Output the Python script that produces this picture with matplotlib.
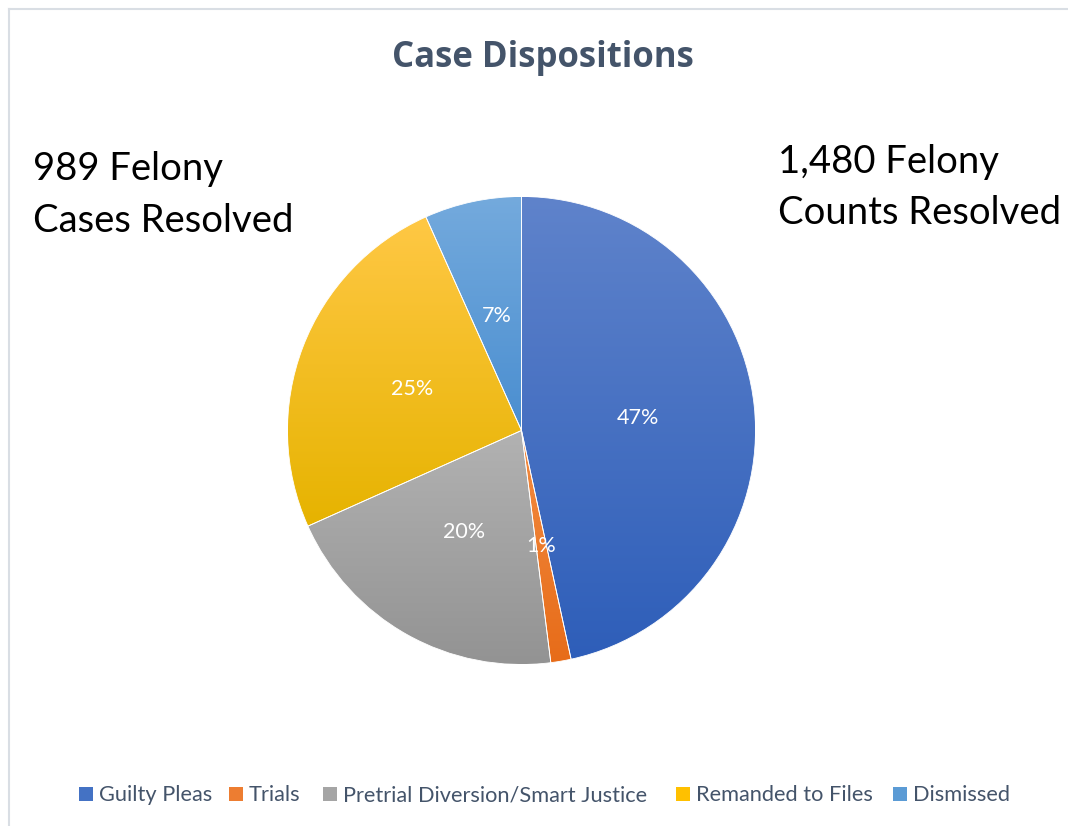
import matplotlib
matplotlib.use("Agg")
import matplotlib.pyplot as plt
from matplotlib.colors import LinearSegmentedColormap
from matplotlib.lines import Line2D
from matplotlib.patches import Rectangle
import numpy as np

# data
categories = ["Guilty Pleas", "Trials", "Pretrial Diversion/Smart Justice",
              "Remanded to Files", "Dismissed"]
shares = [46.6, 1.4, 20.3, 25.0, 6.7]
# gradient top / bottom colours per slice
top_colors = ["#5F83CB", "#F28C42", "#B2B2B2", "#FFC845", "#74AADD"]
bottom_colors = ["#2E5EB9", "#E76C19", "#939393", "#E6B300", "#4A8ED0"]
legend_colors = ["#4472C4", "#ED7D31", "#A5A5A5", "#FFC000", "#5B9BD5"]
title = "Case Dispositions"
left_note = ["989 Felony", "Cases Resolved"]
right_note = ["1,480 Felony", "Counts Resolved"]

W, H = 1068, 826
plt.rcParams['font.family'] = ['Lato', 'DejaVu Sans']

fig = plt.figure(figsize=(W / 100, H / 100), dpi=100)
fig.patch.set_facecolor("white")

def fx(px):
    return px / W

def fy(py):
    return 1 - py / H

# chart-area border (left and top edges visible)
fig.add_artist(Line2D([fx(8.5), fx(8.5)], [fy(8.5), 0], color="#D9DEE4", lw=1.5))
fig.add_artist(Line2D([fx(8.5), 1], [fy(8.5), fy(8.5)], color="#D9DEE4", lw=1.5))

# pie axes: center (521.5, 430.5), radius 234 px
r_px = 234
cx, cy = 521.5, 430.5
ax = fig.add_axes([fx(cx - r_px), fy(cy + r_px), 2 * r_px / W, 2 * r_px / H])
ax.set_xlim(-1, 1)
ax.set_ylim(-1, 1)
ax.set_aspect("equal")
ax.axis("off")

wedges, _, autotexts = ax.pie(shares, startangle=90, counterclock=False,
                              autopct="%1.0f%%", pctdistance=0.5, radius=1,
                              wedgeprops=dict(edgecolor="white", linewidth=0.6),
                              textprops=dict(color="white", fontsize=15.5))

# per-slice vertical gradient, clipped to the wedge
grad = np.linspace(0, 1, 256).reshape(-1, 1)
for w, c0, c1 in zip(wedges, top_colors, bottom_colors):
    bb = w.get_path().get_extents()
    cmap = LinearSegmentedColormap.from_list("g", [c0, c1])
    im = ax.imshow(grad, cmap=cmap, aspect="auto", origin="upper",
                   extent=(bb.x0, bb.x1, bb.y0, bb.y1), zorder=1,
                   interpolation="bilinear")
    im.set_clip_path(w)
    w.set_facecolor("none")
    w.set_zorder(2)
for t in autotexts:
    t.set_zorder(3)
ax.set_xlim(-1, 1)
ax.set_ylim(-1, 1)

# title
fig.text(fx(542.5), fy(67), title, ha="center", va="baseline",
         fontsize=25, fontweight="bold", color="#44546A",
         family=["Open Sans", "DejaVu Sans"])

# side notes
for i, line in enumerate(left_note):
    fig.text(fx(33), fy(180 + 52 * i), line, ha="left", va="baseline",
             fontsize=27.5, color="black")
for i, line in enumerate(right_note):
    fig.text(fx(778), fy(173 + 51 * i), line, ha="left", va="baseline",
             fontsize=27.5, color="black")

# legend along the bottom
sq_x = [79, 229, 323, 676, 893]
for x0, name, col in zip(sq_x, categories, legend_colors):
    fig.add_artist(Rectangle((fx(x0), fy(801)), 14 / W, 14 / H,
                             facecolor=col, edgecolor="none",
                             transform=fig.transFigure))
    fig.text(fx(x0 + 20), fy(801), name, ha="left", va="baseline",
             fontsize=15.7, color="#44546A")

fig.savefig("out.png", dpi=100)
